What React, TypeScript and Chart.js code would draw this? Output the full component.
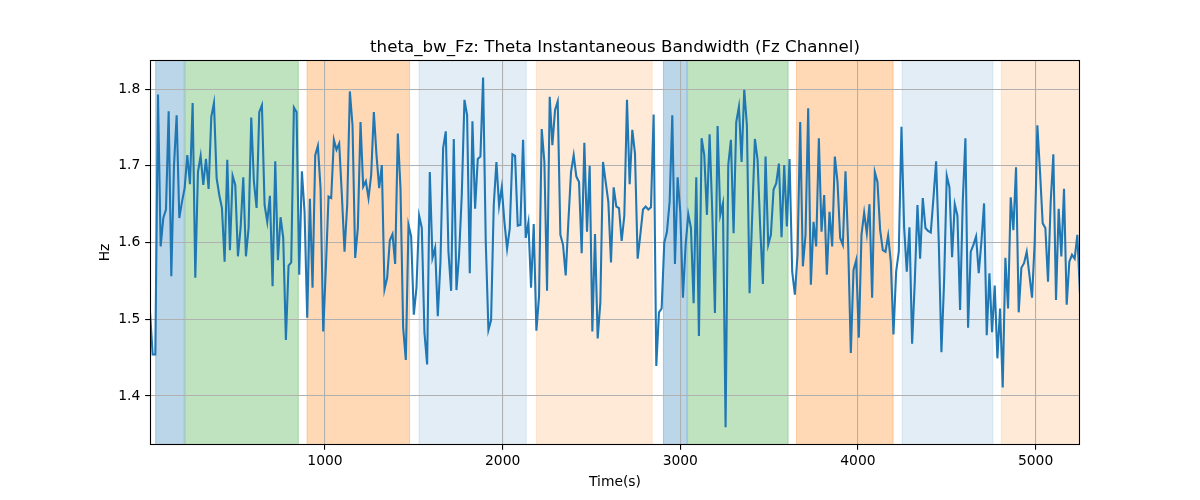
import React, { useEffect, useRef } from "react";
import { Chart, registerables } from "chart.js";

Chart.register(...registerables);

const TITLE = "theta_bw_Fz: Theta Instantaneous Bandwidth (Fz Channel)";
const X_LABEL = "Time(s)";
const Y_LABEL = "Hz";

// Sampling of the bandwidth series (seconds)
const SAMPLE_START = 15;
const SAMPLE_STEP = 15;

// Instantaneous bandwidth values (Hz)
const BW_VALUES = [
  1.51, 1.454, 1.454, 1.793, 1.595, 1.632, 1.643, 1.771, 1.556, 1.7, 1.766, 1.632, 1.653, 1.671, 1.714, 1.676, 1.782,
  1.554, 1.692, 1.713, 1.675, 1.709, 1.67, 1.764, 1.782, 1.684, 1.662, 1.645, 1.575, 1.708, 1.59, 1.687, 1.675, 1.582,
  1.619, 1.685, 1.582, 1.619, 1.763, 1.679, 1.645, 1.77, 1.779, 1.649, 1.627, 1.661, 1.543, 1.706, 1.577, 1.633, 1.606,
  1.473, 1.57, 1.574, 1.776, 1.77, 1.558, 1.693, 1.64, 1.502, 1.657, 1.541, 1.714, 1.726, 1.671, 1.484, 1.567, 1.66,
  1.658, 1.734,
  1.721, 1.729, 1.662, 1.588, 1.649, 1.797, 1.753, 1.58, 1.619, 1.757, 1.673, 1.68, 1.658, 1.688, 1.77, 1.714, 1.671,
  1.701, 1.539, 1.554, 1.603, 1.611, 1.572, 1.742, 1.671, 1.489, 1.447, 1.623, 1.608, 1.506, 1.541, 1.635, 1.619,
  1.482, 1.441, 1.692,
  1.58, 1.593, 1.504, 1.575, 1.723, 1.745, 1.588, 1.537, 1.735, 1.538, 1.584, 1.662, 1.786, 1.766, 1.56, 1.758, 1.644,
  1.709, 1.712, 1.815, 1.601, 1.486, 1.499, 1.649, 1.705, 1.648, 1.672, 1.627, 1.592, 1.618, 1.715, 1.713, 1.622,
  1.623, 1.734,
  1.606, 1.626, 1.541, 1.624, 1.485, 1.53, 1.748, 1.705, 1.537, 1.79, 1.727, 1.773, 1.784, 1.61, 1.597, 1.557, 1.627,
  1.692, 1.714, 1.686, 1.679, 1.586, 1.73, 1.614, 1.7, 1.484, 1.611, 1.475, 1.522, 1.705, 1.679, 1.653, 1.574, 1.672,
  1.647, 1.645,
  1.602, 1.635, 1.786, 1.676, 1.747, 1.716, 1.579, 1.61, 1.643, 1.647, 1.643, 1.646, 1.767, 1.439, 1.509, 1.514, 1.6,
  1.614, 1.653, 1.766, 1.572, 1.685, 1.64, 1.528, 1.597, 1.637, 1.619, 1.521, 1.685, 1.478, 1.736, 1.714, 1.636,
  1.741, 1.64, 1.508,
  1.752, 1.636, 1.651, 1.359, 1.701, 1.734, 1.612, 1.757, 1.777, 1.705, 1.799, 1.753, 1.534, 1.636, 1.735, 1.708,
  1.619, 1.546, 1.712, 1.597, 1.61, 1.669, 1.677, 1.703, 1.607, 1.701, 1.621, 1.709, 1.562, 1.532, 1.584, 1.757,
  1.569, 1.61, 1.775,
  1.545, 1.627, 1.595, 1.736, 1.614, 1.662, 1.558, 1.64, 1.595, 1.712, 1.679, 1.606, 1.597, 1.693, 1.597, 1.456,
  1.564, 1.577, 1.476, 1.61, 1.639, 1.612, 1.65, 1.528, 1.692, 1.679, 1.616, 1.59, 1.588, 1.609, 1.575, 1.48, 1.562,
  1.588, 1.751, 1.62,
  1.562, 1.62, 1.468, 1.549, 1.649, 1.579, 1.658, 1.619, 1.615, 1.613, 1.658, 1.706, 1.601, 1.457, 1.549, 1.687,
  1.672, 1.581, 1.65, 1.635, 1.512, 1.653, 1.736, 1.489, 1.588, 1.597, 1.608, 1.56, 1.601, 1.651, 1.479, 1.56, 1.483,
  1.544, 1.449, 1.514,
  1.411, 1.58, 1.514, 1.659, 1.616, 1.698, 1.509, 1.567, 1.573, 1.588, 1.558, 1.528, 1.601, 1.753, 1.692, 1.625,
  1.619, 1.549, 1.653, 1.715, 1.525, 1.644, 1.582, 1.67, 1.519, 1.575, 1.584, 1.579, 1.61, 1.533,
];

const X_TICKS = [1000, 2000, 3000, 4000, 5000];
const Y_TICKS = [1.4, 1.5, 1.6, 1.7, 1.8];
const X_MIN = 15;
const X_MAX = 5250;
const Y_MIN = 1.336;
const Y_MAX = 1.838;

// Shaded stage bands
const BAND_STARTS = [47, 212, 899, 1529, 2191, 2905, 3041, 3654, 4249, 4807];
const BAND_ENDS = [208, 850, 1476, 2133, 2842, 3037, 3607, 4198, 4760, 5250];
const BAND_COLORS = [
  "rgba(31,119,180,0.3)",
  "rgba(44,160,44,0.3)",
  "rgba(255,127,14,0.3)",
  "rgba(31,119,180,0.13)",
  "rgba(255,127,14,0.16)",
  "rgba(31,119,180,0.3)",
  "rgba(44,160,44,0.3)",
  "rgba(255,127,14,0.3)",
  "rgba(31,119,180,0.13)",
  "rgba(255,127,14,0.16)",
];

const FONT = "'DejaVu Sans', 'Liberation Sans', sans-serif";

export default function App() {
  const canvasRef = useRef<HTMLCanvasElement | null>(null);

  useEffect(() => {
    const canvas = canvasRef.current;
    if (!canvas) return;

    const points = BW_VALUES.map((v, i) => ({ x: SAMPLE_START + i * SAMPLE_STEP, y: v }));

    const bandsPlugin = {
      id: "bands",
      beforeDraw(chart: any) {
        const { ctx, chartArea, scales } = chart;
        ctx.save();
        ctx.beginPath();
        ctx.rect(chartArea.left, chartArea.top, chartArea.right - chartArea.left, chartArea.bottom - chartArea.top);
        ctx.clip();
        for (let i = 0; i < BAND_STARTS.length; i++) {
          const x0 = scales.x.getPixelForValue(BAND_STARTS[i]);
          const x1 = scales.x.getPixelForValue(BAND_ENDS[i]);
          ctx.fillStyle = BAND_COLORS[i];
          ctx.fillRect(x0, chartArea.top, x1 - x0, chartArea.bottom - chartArea.top);
          ctx.strokeStyle = BAND_COLORS[i];
          ctx.lineWidth = 1;
          ctx.strokeRect(x0, chartArea.top, x1 - x0, chartArea.bottom - chartArea.top);
        }
        ctx.restore();
      },
    };

    const framePlugin = {
      id: "frame",
      afterDatasetsDraw(chart: any) {
        const { ctx, chartArea } = chart;
        ctx.save();
        ctx.strokeStyle = "#000";
        ctx.lineWidth = 1.1;
        ctx.strokeRect(
          Math.round(chartArea.left) + 0.5,
          Math.round(chartArea.top) + 0.5,
          Math.round(chartArea.right - chartArea.left) - 1,
          Math.round(chartArea.bottom - chartArea.top) - 1
        );
        ctx.restore();
      },
      afterDraw(chart: any) {
        const { ctx, chartArea } = chart;
        const cx = (chartArea.left + chartArea.right) / 2;
        const cy = (chartArea.top + chartArea.bottom) / 2;
        ctx.save();
        ctx.fillStyle = "#000";
        ctx.textAlign = "center";
        ctx.textBaseline = "alphabetic";
        ctx.font = `16.67px ${FONT}`;
        ctx.fillText(TITLE, cx, chartArea.top - 8.3);
        ctx.font = `13.89px ${FONT}`;
        ctx.textBaseline = "middle";
        ctx.fillText(X_LABEL, cx, 482);
        ctx.translate(105.5, cy);
        ctx.rotate(-Math.PI / 2);
        ctx.fillText(Y_LABEL, 0, 0);
        ctx.restore();
      },
    };

    const chart = new Chart(canvas, {
      type: "line",
      data: {
        datasets: [
          {
            data: points,
            borderColor: "#1f77b4",
            borderWidth: 2.08,
            pointRadius: 0,
            tension: 0,
            fill: false,
          },
        ],
      },
      options: {
        animation: false,
        responsive: false,
        devicePixelRatio: 1,
        layout: { padding: { left: 0, top: 60, right: 120, bottom: 0 } },
        plugins: {
          legend: { display: false },
          tooltip: { enabled: false },
          title: { display: false },
        },
        scales: {
          x: {
            type: "linear",
            min: X_MIN,
            max: X_MAX,
            afterBuildTicks: (s: any) => {
              s.ticks = X_TICKS.map((v) => ({ value: v }));
            },
            afterFit: (s: any) => {
              s.height = 55;
            },
            ticks: {
              color: "#000",
              font: { family: FONT, size: 13.89 },
              padding: 3.5,
              maxRotation: 0,
              autoSkip: false,
              callback: (v: any) => String(v),
            },
            grid: {
              color: "#b0b0b0",
              lineWidth: 1.1,
              tickColor: "#000",
              tickLength: 4.86,
              tickWidth: 1.1,
            },
            border: { display: false },
          },
          y: {
            type: "linear",
            min: Y_MIN,
            max: Y_MAX,
            afterBuildTicks: (s: any) => {
              s.ticks = Y_TICKS.map((v) => ({ value: v }));
            },
            afterFit: (s: any) => {
              s.width = 150;
            },
            ticks: {
              color: "#000",
              font: { family: FONT, size: 13.89 },
              padding: 4.86,
              autoSkip: false,
              callback: (v: any) => Number(v).toFixed(1),
            },
            grid: {
              color: "#b0b0b0",
              lineWidth: 1.1,
              tickColor: "#000",
              tickLength: 4.86,
              tickWidth: 1.1,
            },
            border: { display: false },
          },
        },
      },
      plugins: [bandsPlugin, framePlugin],
    });

    return () => {
      chart.destroy();
    };
  }, []);

  return (
    <div style={{ position: "absolute", left: 0, top: 0, width: 1200, height: 500, background: "#fff" }}>
      <canvas ref={canvasRef} width={1200} height={500} style={{ display: "block", width: 1200, height: 500 }} />
    </div>
  );
}
